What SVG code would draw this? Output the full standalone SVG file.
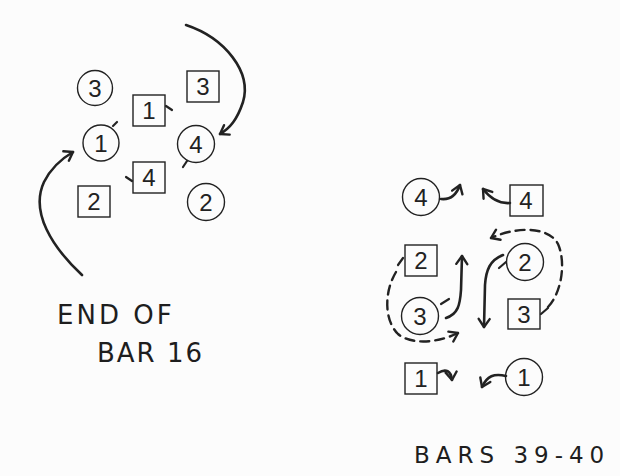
<svg xmlns="http://www.w3.org/2000/svg" width="620" height="476" viewBox="0 0 620 476">
<style>
.c{fill:none;stroke:#222;stroke-width:1.4}
.n{font-family:"Liberation Sans",Arial,sans-serif;font-size:24px;fill:#222;text-anchor:middle}
.a{fill:none;stroke:#222;stroke-width:2.6;stroke-linecap:round}
.d{fill:none;stroke:#222;stroke-width:2.4;stroke-dasharray:9 6;stroke-linecap:round}
.t{fill:none;stroke:#222;stroke-width:2.2;stroke-linecap:round}
.lbl{font-family:"DejaVu Sans","Liberation Sans",sans-serif;font-size:26px;fill:#1e1e1e;letter-spacing:3px}
</style>
<defs>
<marker id="ah" markerUnits="userSpaceOnUse" viewBox="0 0 14 14" markerWidth="14" markerHeight="14" refX="11" refY="7" orient="auto">
<path d="M3,1.5 L11,7 L3,12.5" fill="none" stroke="#222" stroke-width="2.4" stroke-linecap="round" stroke-linejoin="round"/>
</marker>
</defs>
<rect width="620" height="476" fill="#fcfcfc"/>

<g id="left-c3"><circle class="c" cx="95" cy="88" r="17.5"/><text class="n" x="95" y="97">3</text></g>
<g id="left-s3"><rect class="c" x="187" y="71" width="32" height="31"/><text class="n" x="203" y="95">3</text></g>
<g id="left-s1"><rect class="c" x="133" y="95" width="32" height="31"/><text class="n" x="149" y="119">1</text></g>
<g id="left-c1"><circle class="c" cx="101" cy="143" r="18"/><text class="n" x="101" y="152">1</text></g>
<g id="left-c4"><circle class="c" cx="196" cy="144" r="18.5"/><text class="n" x="196" y="153">4</text></g>
<g id="left-s4"><rect class="c" x="133" y="162" width="32" height="31"/><text class="n" x="149" y="186">4</text></g>
<g id="left-s2"><rect class="c" x="78" y="186" width="32" height="31"/><text class="n" x="94" y="210">2</text></g>
<g id="left-c2"><circle class="c" cx="206" cy="202" r="18.5"/><text class="n" x="206" y="211">2</text></g>

<g id="right-c4"><circle class="c" cx="421" cy="197" r="18.5"/><text class="n" x="421" y="206">4</text></g>
<g id="right-s4"><rect class="c" x="510" y="185" width="33" height="31"/><text class="n" x="526" y="209">4</text></g>
<g id="right-s2"><rect class="c" x="405" y="245" width="32" height="31"/><text class="n" x="421" y="269">2</text></g>
<g id="right-c2"><circle class="c" cx="525" cy="262" r="18.5"/><text class="n" x="525" y="271">2</text></g>
<g id="right-c3"><circle class="c" cx="420" cy="316" r="18.5"/><text class="n" x="420" y="325">3</text></g>
<g id="right-s3"><rect class="c" x="508" y="299" width="32" height="30"/><text class="n" x="524" y="323">3</text></g>
<g id="right-s1"><rect class="c" x="405" y="363" width="32" height="31"/><text class="n" x="421" y="387">1</text></g>
<g id="right-c1"><circle class="c" cx="524" cy="377" r="18.5"/><text class="n" x="524" y="386">1</text></g>

<g id="connectors">
<path class="a" d="M186,25 C225,38 252,72 243,102 C237,120 230,128 220,134" marker-end="url(#ah)"/>
<path class="a" d="M82,275 C52,247 30,212 44,182 C51,168 61,159 73,152" marker-end="url(#ah)"/>
<path class="t" d="M166,106 L172,110"/>
<path class="t" d="M113,126 L117,122"/>
<path class="t" d="M183,167 L187,161"/>
<path class="t" d="M126,177 L132,181"/>
<path class="a" d="M441,199 C450,200 456,196 460,185" marker-end="url(#ah)"/>
<path class="a" d="M510,203 C498,204 490,198 483,189" marker-end="url(#ah)"/>
<path class="a" d="M446,318 C458,314 460,305 461,290 L462,256" marker-end="url(#ah)"/>
<path class="t" d="M441,304 L449,299"/>
<path class="a" d="M503,255 C490,260 486,270 485,285 L484,327" marker-end="url(#ah)"/>
<path class="t" d="M499,268 L506,262"/>
<path class="t" d="M398,265 L403,258"/>
<path class="t" d="M541,314 L548,308"/>
<path class="d" d="M396,272 C384,292 384,320 398,334 C413,346 440,342 458,333" marker-end="url(#ah)"/>
<path class="d" d="M548,307 C562,292 566,262 558,244 C550,228 520,225 491,238" marker-end="url(#ah)"/>
<path class="a" d="M438,373 C446,368 451,371 452,380" marker-end="url(#ah)"/>
<path class="a" d="M506,376 C494,373 487,376 482,387" marker-end="url(#ah)"/>
</g>

<text class="lbl" x="57" y="324">END OF</text>
<text class="lbl" x="97" y="362" style="letter-spacing:2px">BAR 16</text>
<text class="lbl" x="414" y="463" style="font-size:23px;letter-spacing:6px">BARS 39-40</text>
</svg>
